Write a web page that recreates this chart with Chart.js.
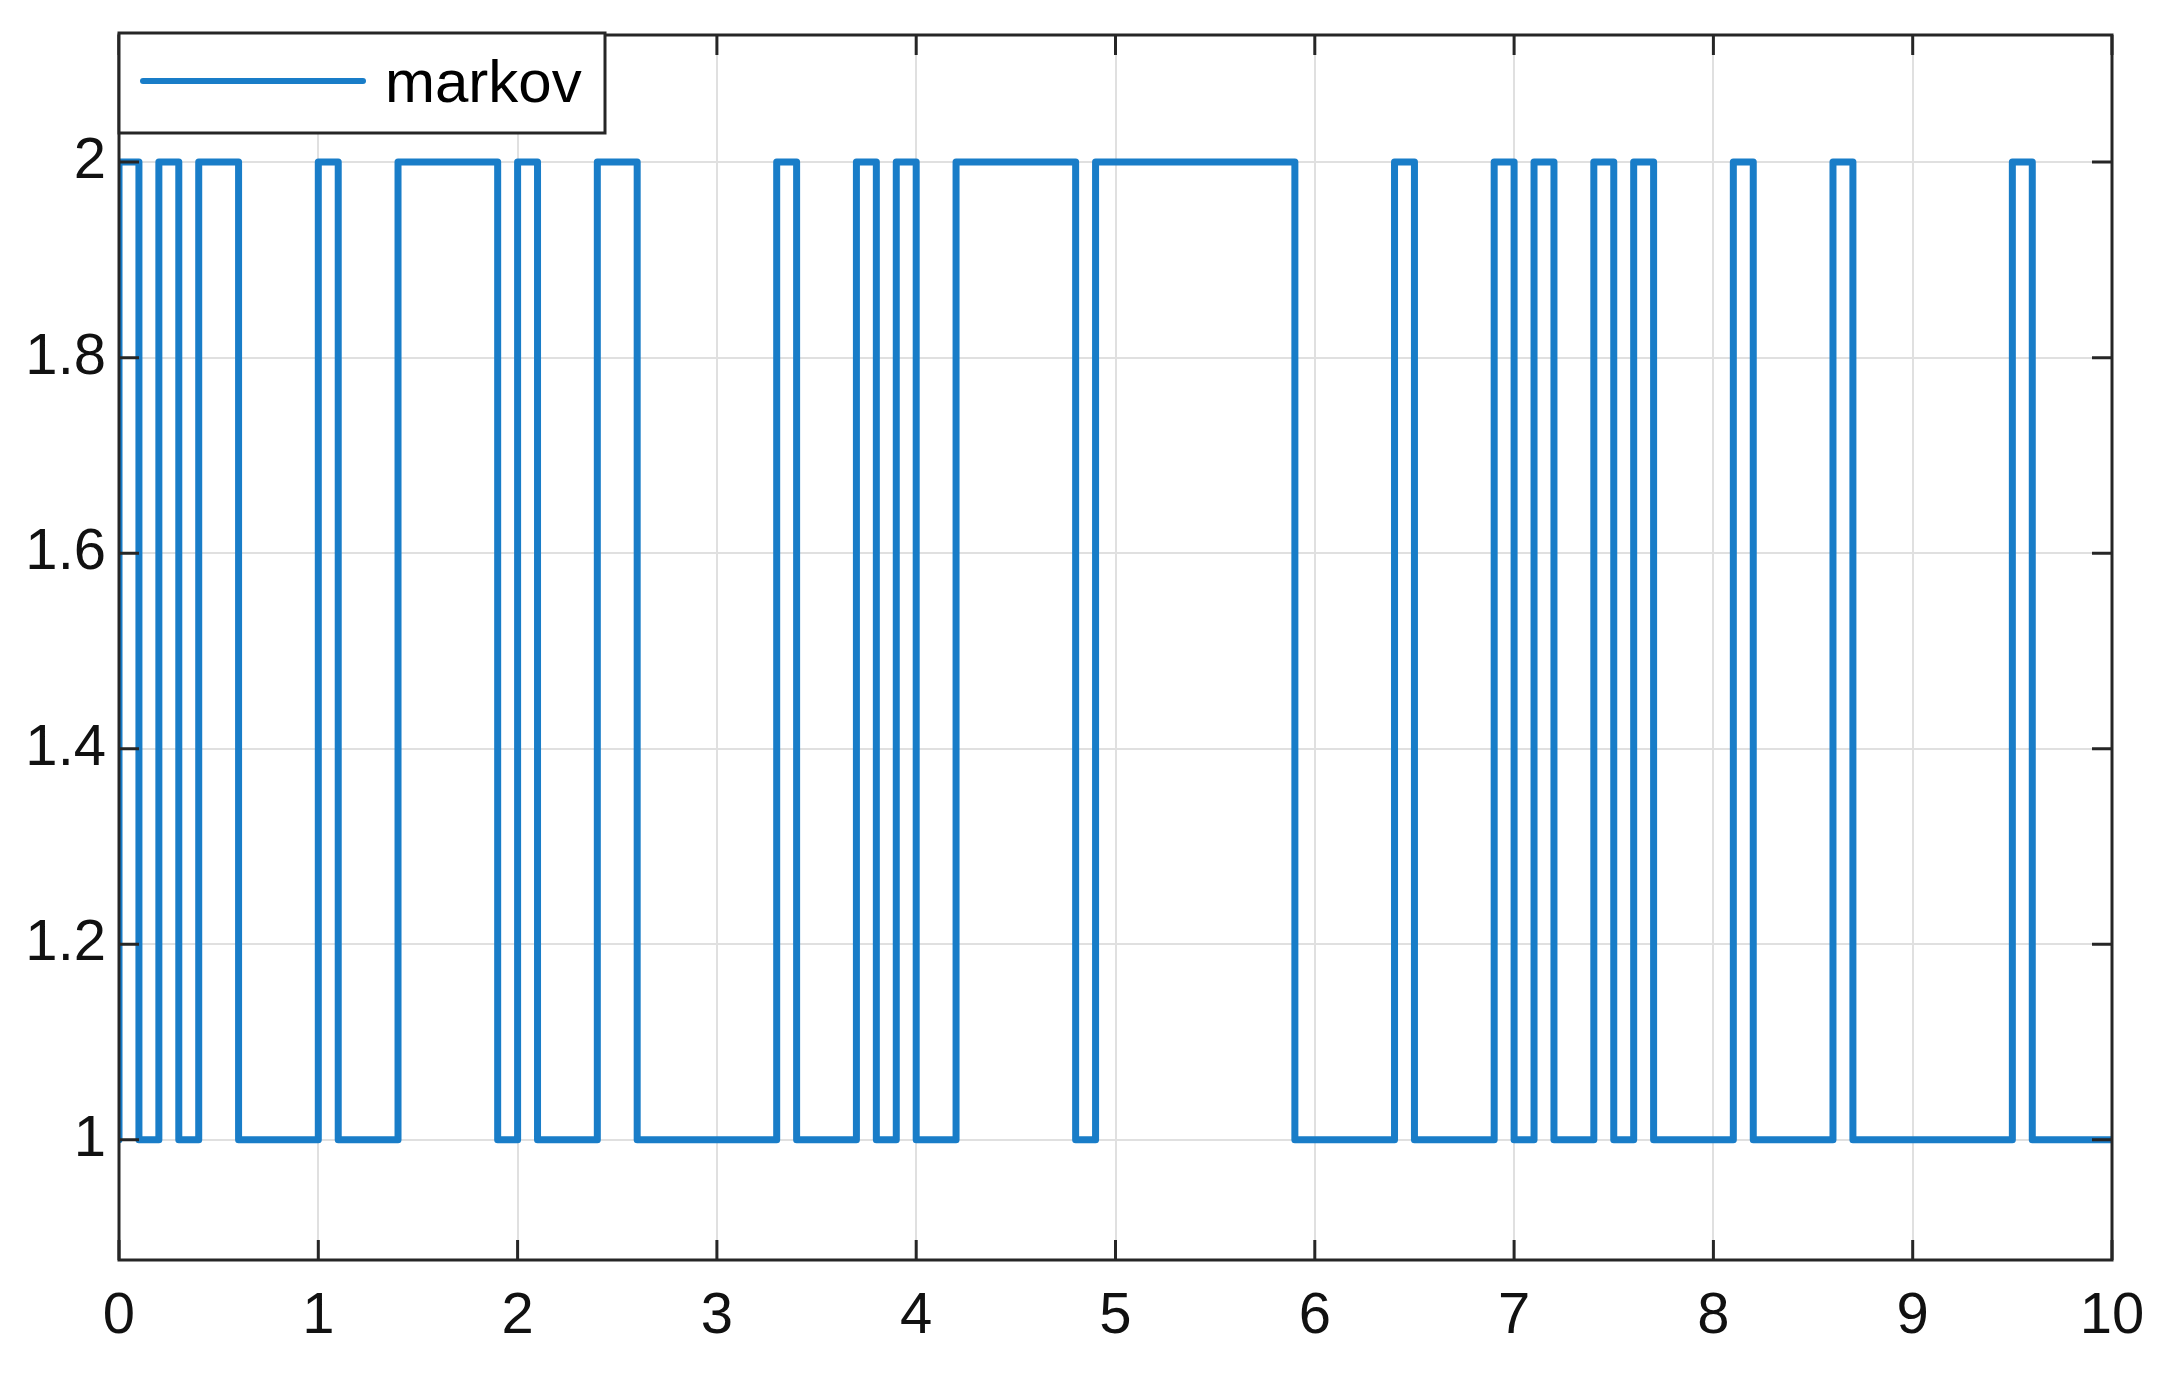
<!DOCTYPE html>
<html>
<head>
<meta charset="utf-8">
<script src="https://cdn.jsdelivr.net/npm/chart.js@4"></script>
<style>
html,body{margin:0;padding:0;background:#fff;}
#wrap{width:2175px;height:1377px;}
</style>
</head>
<body>
<div id="wrap"><canvas id="c" width="2175" height="1377"></canvas></div>
<script>
// switching instants (s) and the state reached at each instant
const switchTimes = [0, 0, 0.1, 0.2, 0.3, 0.4, 0.6, 1.0, 1.1, 1.4, 1.9, 2.0, 2.1, 2.4, 2.6, 3.3, 3.4, 3.7, 3.8, 3.9, 4.0, 4.2, 4.8, 4.9, 5.9, 6.4, 6.5, 6.9, 7.0, 7.1, 7.2, 7.4, 7.5, 7.6, 7.7, 8.1, 8.2, 8.6, 8.7, 9.5, 9.6, 10];
const states      = [1, 2, 1,   2,   1,   2,   1,   2,   1,   2,   1,   2,   1,   2,   1,   2,   1,   2,   1,   2,   1,   2,   1,   2,   1,   2,   1,   2,   1,   2,   1,   2,   1,   2,   1,   2,   1,   2,   1,   2,   1,   1];
const seriesName = 'markov';
const xTicks = [0, 1, 2, 3, 4, 5, 6, 7, 8, 9, 10];
const yTicks = [1, 1.2, 1.4, 1.6, 1.8, 2];
const xRange = [0, 10];
const yRange = [0.877, 2.13];

const lineColor = 'rgb(25,125,200)';
const axisColor = '#262626';
const FONT = '"Liberation Sans", Arial, Helvetica, sans-serif';

const boxPlugin = {
  id: 'boxPlugin',
  afterDatasetsDraw(chart) {
    const {ctx, chartArea: a, scales} = chart;
    ctx.save();
    ctx.strokeStyle = axisColor;
    ctx.lineWidth = 3;
    const tl = 20;
    ctx.beginPath();
    xTicks.forEach(v => {
      const x = scales.x.getPixelForValue(v);
      ctx.moveTo(x, a.bottom); ctx.lineTo(x, a.bottom - tl);
      ctx.moveTo(x, a.top); ctx.lineTo(x, a.top + tl);
    });
    yTicks.forEach(v => {
      const y = scales.y.getPixelForValue(v);
      ctx.moveTo(a.left, y); ctx.lineTo(a.left + tl, y);
      ctx.moveTo(a.right, y); ctx.lineTo(a.right - tl, y);
    });
    ctx.stroke();
    ctx.strokeRect(a.left, a.top, a.right - a.left, a.bottom - a.top);

    // legend
    const lx = a.left, ly = a.top - 2, lw = 486, lh = 100;
    ctx.fillStyle = '#fff';
    ctx.fillRect(lx, ly, lw, lh);
    ctx.strokeRect(lx, ly, lw, lh);
    ctx.strokeStyle = lineColor;
    ctx.lineWidth = 6;
    ctx.lineCap = 'round';
    ctx.beginPath();
    ctx.moveTo(lx + 24, ly + 48);
    ctx.lineTo(lx + 244, ly + 48);
    ctx.stroke();
    ctx.fillStyle = '#000';
    ctx.font = '60px ' + FONT;
    ctx.textBaseline = 'middle';
    ctx.textAlign = 'left';
    ctx.fillText(chart.data.datasets[0].label, lx + 266, ly + 52);
    ctx.restore();
  }
};

new Chart(document.getElementById('c'), {
  type: 'line',
  data: {
    datasets: [{
      label: seriesName,
      data: switchTimes.map((t, i) => ({x: t, y: states[i]})),
      stepped: 'before',
      borderColor: lineColor,
      borderWidth: 7,
      borderJoinStyle: 'round',
      borderCapStyle: 'round',
      pointRadius: 0,
      fill: false,
      tension: 0
    }]
  },
  options: {
    responsive: false,
    animation: false,
    devicePixelRatio: 1,
    layout: {padding: {top: 35, right: 63, left: 0, bottom: 0}},
    plugins: {legend: {display: false}, tooltip: {enabled: false}},
    scales: {
      x: {
        type: 'linear',
        min: xRange[0], max: xRange[1],
        afterBuildTicks: s => { s.ticks = xTicks.map(v => ({value: v})); },
        afterFit: s => { s.height = 117; s.paddingLeft = 0; s.paddingRight = 0; },
        grid: {color: '#e0e0e0', lineWidth: 2, drawTicks: false},
        border: {display: false},
        ticks: {color: '#111', font: {family: FONT, size: 58}, padding: 22, maxRotation: 0,
          callback: v => String(v)}
      },
      y: {
        type: 'linear',
        min: yRange[0], max: yRange[1],
        afterBuildTicks: s => { s.ticks = yTicks.map(v => ({value: v})); },
        afterFit: s => { s.width = 119; s.paddingTop = 0; s.paddingBottom = 0; },
        grid: {color: '#e0e0e0', lineWidth: 2, drawTicks: false},
        border: {display: false},
        ticks: {color: '#111', font: {family: FONT, size: 58}, padding: 13,
          callback: v => String(Math.round(v * 10) / 10)}
      }
    }
  },
  plugins: [boxPlugin]
});
</script>
</body>
</html>
